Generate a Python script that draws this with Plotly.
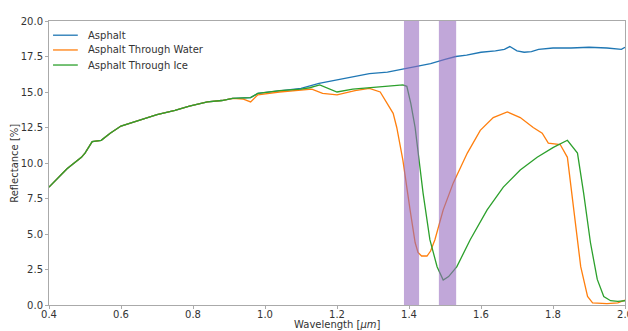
import plotly.graph_objects as go

# ---- data ----
wl_asphalt = [0.40, 0.45, 0.49, 0.50, 0.52, 0.545, 0.57, 0.60, 0.65, 0.70, 0.75, 0.79,
              0.84, 0.88, 0.91, 0.96, 0.98, 1.04, 1.10, 1.15, 1.20, 1.24, 1.29, 1.34,
              1.38, 1.42, 1.46, 1.50, 1.53, 1.56, 1.60, 1.64, 1.665, 1.68, 1.70, 1.72,
              1.74, 1.76, 1.80, 1.85, 1.90, 1.95, 1.99, 2.00]
refl_asphalt = [8.3, 9.6, 10.4, 10.7, 11.5, 11.6, 12.1, 12.6, 13.0, 13.4, 13.7, 14.0,
                14.3, 14.4, 14.55, 14.6, 14.9, 15.1, 15.25, 15.6, 15.85, 16.1, 16.3, 16.4,
                16.6, 16.8, 17.0, 17.3, 17.5, 17.6, 17.8, 17.9, 18.0, 18.2, 17.9, 17.8,
                17.85, 18.0, 18.1, 18.1, 18.15, 18.1, 18.0, 18.15]

wl_water = [0.40, 0.45, 0.49, 0.50, 0.52, 0.545, 0.57, 0.60, 0.65, 0.70, 0.75, 0.79,
            0.84, 0.88, 0.91, 0.94, 0.96, 0.98, 1.04, 1.10, 1.13, 1.16, 1.20, 1.25,
            1.29, 1.32, 1.34, 1.356, 1.366, 1.383, 1.403, 1.417, 1.425, 1.435, 1.45,
            1.46, 1.472, 1.495, 1.523, 1.562, 1.598, 1.634, 1.673, 1.709, 1.745, 1.77,
            1.787, 1.82, 1.84, 1.857, 1.877, 1.896, 1.91, 1.95, 1.98, 2.00]
refl_water = [8.3, 9.6, 10.4, 10.7, 11.5, 11.6, 12.1, 12.6, 13.0, 13.4, 13.7, 14.0,
              14.3, 14.4, 14.55, 14.5, 14.3, 14.8, 15.0, 15.1, 15.2, 14.9, 14.8, 15.1,
              15.25, 15.0, 14.2, 13.5, 12.5, 10.2, 6.7, 4.4, 3.7, 3.45, 3.45,
              3.8, 4.6, 6.7, 8.6, 10.7, 12.3, 13.2, 13.6, 13.2, 12.5, 12.1,
              11.4, 11.3, 10.4, 6.7, 2.7, 0.6, 0.15, 0.1, 0.15, 0.35]

wl_ice = [0.40, 0.45, 0.49, 0.50, 0.52, 0.545, 0.57, 0.60, 0.65, 0.70, 0.75, 0.79,
          0.84, 0.88, 0.91, 0.96, 0.98, 1.04, 1.10, 1.124, 1.152, 1.20, 1.244, 1.29,
          1.338, 1.383, 1.394, 1.405, 1.417, 1.439, 1.458, 1.478, 1.495, 1.51, 1.533,
          1.57, 1.617, 1.662, 1.709, 1.756, 1.801, 1.84, 1.868, 1.885, 1.904, 1.923,
          1.941, 1.96, 1.98, 2.00]
refl_ice = [8.3, 9.6, 10.4, 10.7, 11.5, 11.6, 12.1, 12.6, 13.0, 13.4, 13.7, 14.0,
            14.3, 14.4, 14.55, 14.6, 14.9, 15.1, 15.2, 15.3, 15.5, 15.0, 15.2, 15.3,
            15.45, 15.5, 15.4, 14.2, 12.5, 7.9, 4.6, 2.7, 1.76, 2.0, 2.7,
            4.6, 6.7, 8.3, 9.5, 10.4, 11.1, 11.6, 10.7, 7.9, 4.4, 1.8,
            0.6, 0.3, 0.25, 0.3]

absorption_bands = [(1.386, 1.428), (1.483, 1.531)]

series_names = ["Asphalt", "Asphalt Through Water", "Asphalt Through Ice"]
series_colors = ["#1f77b4", "#ff7f0e", "#2ca02c"]

x_ticks = [0.4, 0.6, 0.8, 1.0, 1.2, 1.4, 1.6, 1.8, 2.0]
y_ticks = [0.0, 2.5, 5.0, 7.5, 10.0, 12.5, 15.0, 17.5, 20.0]

x_title = "Wavelength [<i>μm</i>]"
y_title = "Reflectance [%]"

# ---- figure ----
fig = go.Figure()
for name, color, xs, ys in zip(series_names, series_colors,
                               [wl_asphalt, wl_water, wl_ice],
                               [refl_asphalt, refl_water, refl_ice]):
    fig.add_trace(go.Scatter(x=xs, y=ys, mode="lines", name=name, showlegend=False,
                             line=dict(color=color, width=1.3)))

for x0, x1 in absorption_bands:
    fig.add_shape(type="rect", xref="x", yref="paper", x0=x0, x1=x1, y0=0, y1=1,
                  fillcolor="rgba(148,103,189,0.58)", line=dict(width=0), layer="above")

# legend drawn inside the axes (matplotlib style), rows in paper coordinates
legend_rows_y = [0.950, 0.898, 0.845]
for name, color, ly in zip(series_names, series_colors, legend_rows_y):
    fig.add_shape(type="line", xref="paper", yref="paper", x0=0.007, x1=0.050,
                  y0=ly, y1=ly, line=dict(color=color, width=1.3))
    fig.add_annotation(xref="paper", yref="paper", x=0.064, y=ly, text=name,
                       showarrow=False, xanchor="left", yanchor="middle",
                       font=dict(size=10, color="#333"))

# axis titles
fig.add_annotation(xref="paper", yref="paper", x=0.5, y=-0.067, text=x_title,
                   showarrow=False, xanchor="center", yanchor="middle",
                   font=dict(size=10, color="#333"))
fig.add_annotation(xref="paper", yref="paper", x=-0.061, y=0.5, text=y_title,
                   showarrow=False, xanchor="center", yanchor="middle", textangle=-90,
                   font=dict(size=10, color="#333"))

axis_common = dict(showline=True, linecolor="#aaa", linewidth=1, mirror=True,
                   ticks="outside", ticklen=3, tickcolor="#aaa", showgrid=False,
                   zeroline=False, automargin=False, ticklabeloverflow="allow",
                   tickfont=dict(size=10, color="#333"))

fig.update_layout(
    width=628, height=331,
    margin=dict(l=49, r=3, t=21, b=26),
    paper_bgcolor="white", plot_bgcolor="white",
    font=dict(family="DejaVu Sans", size=10, color="#333"),
    showlegend=False,
    xaxis=dict(range=[0.4, 2.0], tickvals=x_ticks,
               ticktext=[f"{v:.1f}" for v in x_ticks], ticklabelstandoff=-3,
               **axis_common),
    yaxis=dict(range=[0, 20], tickvals=y_ticks,
               ticktext=[f"{v:.1f}" for v in y_ticks],
               **axis_common),
)

fig.write_html("out.html", config={"displayModeBar": False},
               post_script="document.body.style.margin='0';document.body.style.padding='0';")
